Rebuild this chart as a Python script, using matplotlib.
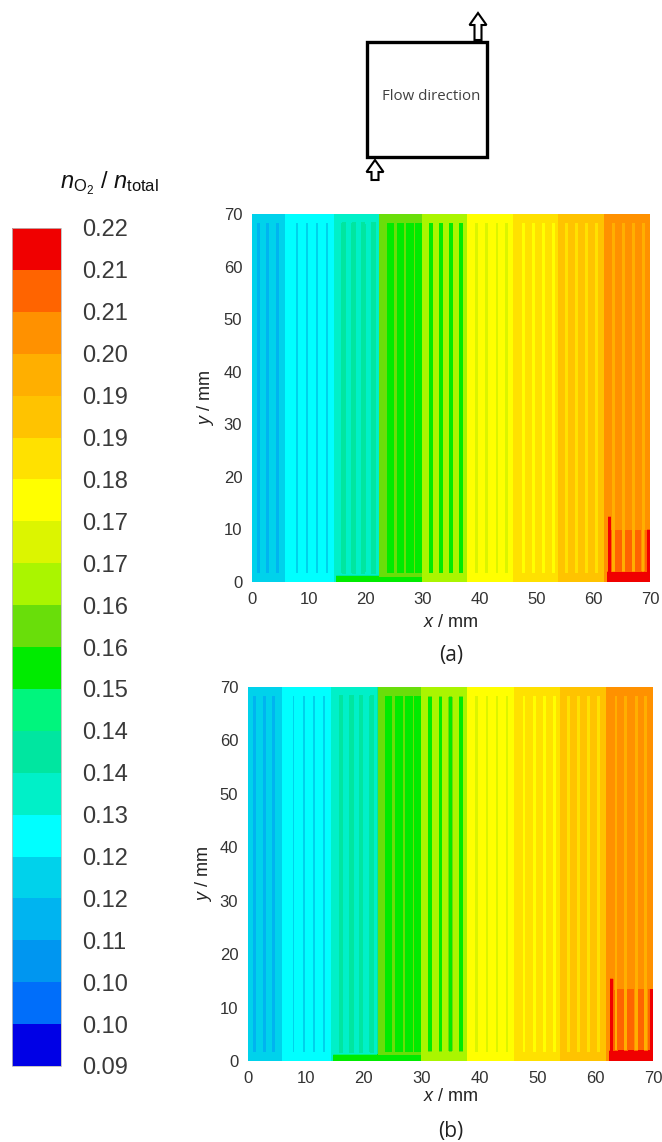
import numpy as np
import matplotlib.pyplot as plt
from matplotlib.patches import Rectangle, FancyArrow

plt.rcParams['font.family'] = ['Liberation Sans', 'DejaVu Sans']
plt.rcParams['mathtext.fontset'] = 'custom'
plt.rcParams['mathtext.rm'] = 'Liberation Sans'
plt.rcParams['mathtext.it'] = 'Liberation Sans:italic'

# legend levels (molar fraction of O2) and their colours
level_labels = ['0.09', '0.10', '0.10', '0.11', '0.12', '0.12', '0.13', '0.14', '0.14', '0.15',
                '0.16', '0.16', '0.17', '0.17', '0.18', '0.19', '0.19', '0.20', '0.21', '0.21', '0.22']
level_colors = ['#0000e6', '#006efa', '#0096f0', '#00b4f0', '#00d2eb', '#00ffff', '#00f0c8',
                '#00e6a0', '#00f57d', '#00eb00', '#69de0a', '#aaf500', '#dcf500', '#ffff00',
                '#ffe100', '#ffc300', '#ffaf00', '#ff9100', '#ff6400', '#f00000']
o2_min, o2_max = 0.09, 0.22

# channel passes of the serpentine (mm) and the rib/channel stripes in each pass
band_edges = [0, 6, 14.5, 22.5, 30, 38, 46, 54, 62, 70]
stripe_x = [[1.2, 2.8, 4.4],
            [7.9, 9.7, 11.4, 13.2],
            [16.1, 17.9, 19.6, 21.4],
            [24.3, 26.1, 27.8, 29.3],
            [31.5, 33.3, 35.0, 36.8],
            [39.5, 41.3, 43.1, 44.8],
            [47.7, 49.5, 51.3, 53.0],
            [55.4, 57.1, 58.9, 60.6],
            [63.6, 65.3, 67.1, 68.8]]
stripe_half = [0.35, 0.25, 0.3, 0.7, 0.4, 0.3, 0.35, 0.35, 0.35]

# case (a)
band_o2_a = [0.119, 0.126, 0.132, 0.158, 0.165, 0.178, 0.184, 0.191, 0.204]
stripe_o2_a = [0.113, 0.120, 0.139, 0.152, 0.152, 0.171, 0.178, 0.184, 0.197]
# case (b)
band_o2_b = [0.119, 0.126, 0.132, 0.158, 0.165, 0.178, 0.184, 0.191, 0.204]
stripe_o2_b = [0.113, 0.120, 0.139, 0.152, 0.152, 0.171, 0.178, 0.184, 0.197]

channel_o2 = 0.152      # bottom turn between pass 3 and 4
outlet_o2 = 0.217       # outlet corner
lower_out_o2 = 0.210    # lower part of the last pass
spike_top_a, edge_top_a = 12.5, 10.0
spike_top_b, edge_top_b = 15.5, 13.5

xg = np.linspace(0, 70, 1401)
yg = np.linspace(0, 70, 281)
levels = np.linspace(o2_min, o2_max, len(level_labels))


def build_field(band_o2, stripe_o2, spike_top, edge_top):
    X, Y = np.meshgrid(xg, yg)
    Z = np.zeros_like(X)
    n = len(band_o2)
    for i in range(n):
        inb = (X >= band_edges[i]) & (X <= band_edges[i + 1])
        Z[inb] = band_o2[i]
        if i == n - 1:
            Z[inb & (X > 63.2) & (Y < edge_top)] = lower_out_o2
        for sx in stripe_x[i]:
            m = inb & (np.abs(X - sx) < stripe_half[i]) & (Y > 1.5) & (Y < 68.5)
            Z[m] = stripe_o2[i]
    Z[(X > 14.8) & (X < 30) & (Y < 1.2)] = channel_o2
    Z[(X > 62.5) & (Y < 1.8)] = outlet_o2
    Z[(np.abs(X - 62.9) < 0.2) & (Y < spike_top)] = outlet_o2
    Z[(X > 69.6) & (Y < edge_top)] = outlet_o2
    return Z


W, H = 662, 1142
fig = plt.figure(figsize=(W / 100, H / 100), dpi=100)


def panel(rect, Z, tag, tag_y, ylab_x, xlab_y):
    ax = fig.add_axes(rect)
    cs = ax.contourf(xg, yg, Z, levels=levels, colors=level_colors)
    ax.set_xlim(0, 70)
    ax.set_ylim(0, 70)
    ax.set_xticks(range(0, 71, 10))
    ax.set_yticks(range(0, 71, 10))
    ax.tick_params(length=0, labelsize=12, colors='#333333', pad=7)
    for s in ax.spines.values():
        s.set_visible(False)
    ax.set_xlabel('$x$ / mm', fontsize=13, color='#222222')
    ax.set_ylabel('$y$ / mm', fontsize=13, color='#222222')
    ax.xaxis.set_label_coords(0.5, xlab_y)
    ax.xaxis.label.set_va('center')
    ax.yaxis.set_label_coords(ylab_x, 0.5)
    ax.yaxis.label.set_va('center')
    fig.text(rect[0] + rect[2] / 2, tag_y, tag, ha='center', va='center',
             fontsize=15, family='Open Sans', color='#222222')
    return cs


cs = panel([252 / W, 1 - 582 / H, 398 / W, 368 / H],
           build_field(band_o2_a, stripe_o2_a, spike_top_a, edge_top_a),
           '(a)', 1 - 655 / H, -0.118, -0.111)
panel([248 / W, 1 - 1061 / H, 405 / W, 374 / H],
      build_field(band_o2_b, stripe_o2_b, spike_top_b, edge_top_b),
      '(b)', 1 - 1131 / H, -0.109, -0.096)

# colour legend
cax = fig.add_axes([12 / W, 1 - 1066 / H, 49 / W, 838 / H])
cb = fig.colorbar(cs, cax=cax, ticks=levels)
cb.ax.set_yticklabels(level_labels)
cb.ax.tick_params(length=0, labelsize=17, colors='#3a3a3a', pad=15)
cb.outline.set_linewidth(0.6)
cb.outline.set_edgecolor('#bbbbbb')
fig.text(109 / W, 1 - 183 / H, r'$n_{\mathrm{O_2}}$ / $n_{\mathrm{total}}$',
         ha='center', va='center', fontsize=17, color='#111111')

# flow direction sketch
ov = fig.add_axes([0, 0, 1, 1])
ov.set_xlim(0, W)
ov.set_ylim(H, 0)
ov.axis('off')
ov.patch.set_alpha(0)
ov.add_patch(Rectangle((367, 42), 120, 115, fill=False, lw=2.4, ec='black'))
ov.text(431, 97, 'Flow direction', ha='center', va='center', fontsize=10.8,
        family='Open Sans', color='#404040')
for ax_x, y0, y1 in [(478, 40, 13), (375, 180, 160)]:
    ov.add_patch(FancyArrow(ax_x, y0, 0, y1 - y0, width=7, head_width=17, head_length=12,
                            length_includes_head=True, fc='white', ec='black', lw=1.5))

fig.savefig('out.png', dpi=100)
